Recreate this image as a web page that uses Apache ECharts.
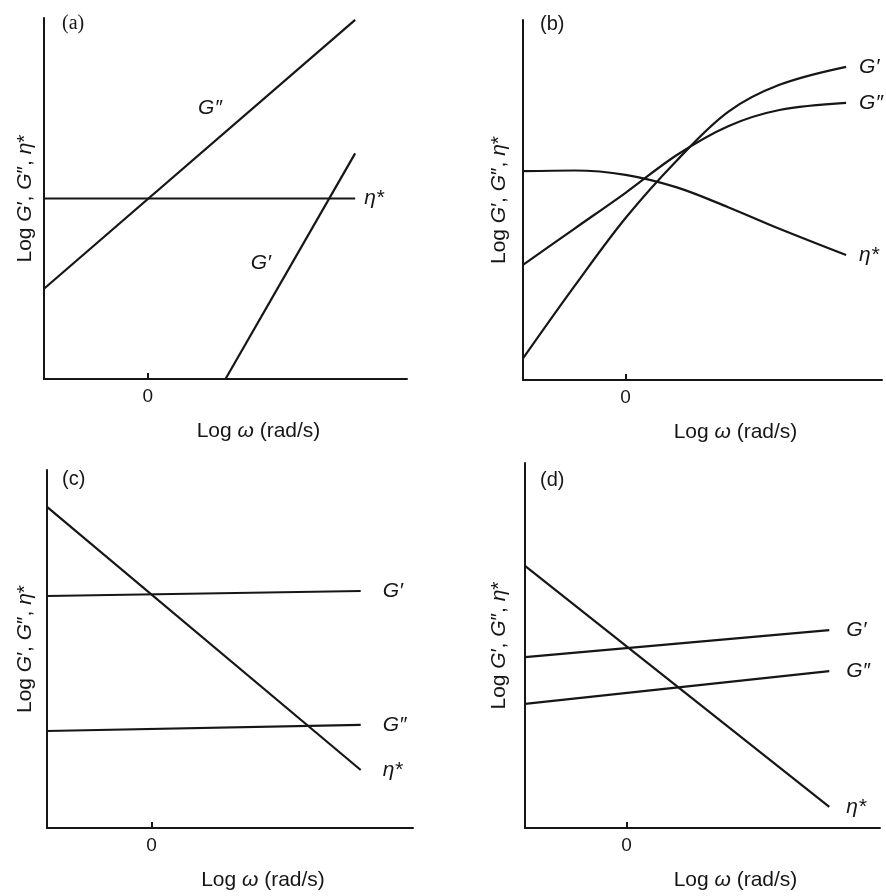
<!DOCTYPE html>
<html><head><meta charset="utf-8">
<script src="https://cdn.jsdelivr.net/npm/echarts@6/dist/echarts.min.js"></script>
<style>html,body{margin:0;padding:0;background:#fff}#c{width:886px;height:896px}</style>
</head><body><div id="c"></div>
<script>
// ---- data ----
const xTickValues = [0];
const panelLabels = ['(a)', '(b)', '(c)', '(d)'];
const xAxisTitle = '{r|Log }{i|ω}{r| (rad/s)}';
const curveNames = { gp: 'G′', gpp: 'G″', eta: 'η*' };

// (a)
const aGdoublePrime = [[-1, 2.5], [2, 9.95]];
const aGprime = [[0.75, 0], [2, 6.25]];
const aEta = [[-1, 5.0], [2, 5.0]];
const aLabelGpp = [[0.6, 7.5]];
const aLabelGp = [[1.09, 3.2]];
// (b)
const bGprime = [[-1, 0.6], [-0.5, 2.6], [0, 4.5], [0.5, 6.1], [1, 7.45], [1.5, 8.2], [2.15, 8.7]];
const bGdoublePrime = [[-1, 3.2], [-0.5, 4.2], [0, 5.2], [0.5, 6.25], [1, 7.05], [1.5, 7.5], [2.15, 7.7]];
const bEta = [[-1, 5.8], [-0.5, 5.82], [0, 5.7], [0.5, 5.35], [1, 4.8], [1.5, 4.2], [2.15, 3.47]];
// (c)
const cEta = [[-1, 8.97], [2, 1.62]];
const cGprime = [[-1, 6.48], [2, 6.62]];
const cGdoublePrime = [[-1, 2.71], [2, 2.88]];
// (d)
const dEta = [[-1, 7.18], [2, 0.58]];
const dGprime = [[-1, 4.68], [2, 5.42]];
const dGdoublePrime = [[-1, 3.40], [2, 4.30]];

// ---- layout / style ----
const INK = '#161616';
const FONT = '"Liberation Sans", Arial, sans-serif';
const grids = [
  { left: 44, top: 18, width: 363, height: 361 },
  { left: 523, top: 20, width: 359, height: 360 },
  { left: 47, top: 470, width: 366, height: 358 },
  { left: 525, top: 463, width: 355, height: 365 }
];
const yNameGaps = [8, 13, 11, 15];
const titlePos = [[62, 14], [540, 14], [62, 469], [540, 470]];

const rich = {
  r: { fontSize: 21, fontFamily: FONT, color: INK },
  i: { fontSize: 21, fontFamily: FONT, color: INK, fontStyle: 'italic' }
};
const yName = '{r|Log }{i|G}{r|′, }{i|G}{r|″, }{i|η}{r|*}';

const xAxes = grids.map((g, k) => ({
  gridIndex: k, type: 'value', min: -1, max: 2.5,
  axisLine: { show: true, onZero: false, lineStyle: { color: INK, width: 2 } },
  splitLine: { show: false },
  axisTick: { show: true, inside: true, length: 6, customValues: xTickValues, lineStyle: { color: INK, width: 2 } },
  axisLabel: { show: true, customValues: xTickValues, margin: 8, fontSize: 19, fontFamily: FONT, color: INK },
  name: xAxisTitle, nameLocation: 'middle', nameGap: 42,
  nameTextStyle: { rich: rich, padding: [0, 0, 0, 66] }
}));
const yAxes = grids.map((g, k) => ({
  gridIndex: k, type: 'value', min: 0, max: 10,
  axisLine: { show: true, onZero: false, lineStyle: { color: INK, width: 2 } },
  splitLine: { show: false }, axisTick: { show: false }, axisLabel: { show: false },
  name: yName, nameLocation: 'middle', nameGap: yNameGaps[k], nameRotate: 90,
  nameTextStyle: { rich: rich }
}));

function line(k, data, label, dist, smooth) {
  return {
    type: 'line', xAxisIndex: k, yAxisIndex: k, data: data, symbol: 'none',
    smooth: smooth || false,
    lineStyle: { color: INK, width: 2.2 },
    endLabel: label ? { show: true, formatter: label, distance: dist, fontSize: 21, fontStyle: 'italic', fontFamily: FONT, color: INK } : { show: false },
    silent: true
  };
}
function tag(k, data, label) {
  return {
    type: 'scatter', xAxisIndex: k, yAxisIndex: k, data: data, symbolSize: 0,
    itemStyle: { opacity: 1 },
    label: { show: true, position: 'inside', opacity: 1, formatter: label, fontSize: 21, fontStyle: 'italic', fontFamily: FONT, color: INK },
    silent: true
  };
}

const series = [
  line(0, aGdoublePrime, null), line(0, aGprime, null), line(0, aEta, curveNames.eta, 9),
  tag(0, aLabelGpp, curveNames.gpp), tag(0, aLabelGp, curveNames.gp),
  line(1, bGprime, curveNames.gp, 13, 0.35), line(1, bGdoublePrime, curveNames.gpp, 13, 0.35), line(1, bEta, curveNames.eta, 13, 0.35),
  line(2, cEta, curveNames.eta, 22), line(2, cGprime, curveNames.gp, 22), line(2, cGdoublePrime, curveNames.gpp, 22),
  line(3, dEta, curveNames.eta, 17), line(3, dGprime, curveNames.gp, 17), line(3, dGdoublePrime, curveNames.gpp, 17)
];

const titles = panelLabels.map((t, k) => ({
  text: t, left: titlePos[k][0], top: titlePos[k][1], padding: 0,
  textStyle: { fontSize: 20, fontWeight: 'normal', color: INK, fontFamily: k === 0 ? '"Liberation Serif", serif' : FONT }
}));

const chart = echarts.init(document.getElementById('c'), null, { renderer: 'canvas' });
chart.setOption({
  animation: false, backgroundColor: '#ffffff',
  title: titles, grid: grids, xAxis: xAxes, yAxis: yAxes, series: series
});
</script></body></html>
